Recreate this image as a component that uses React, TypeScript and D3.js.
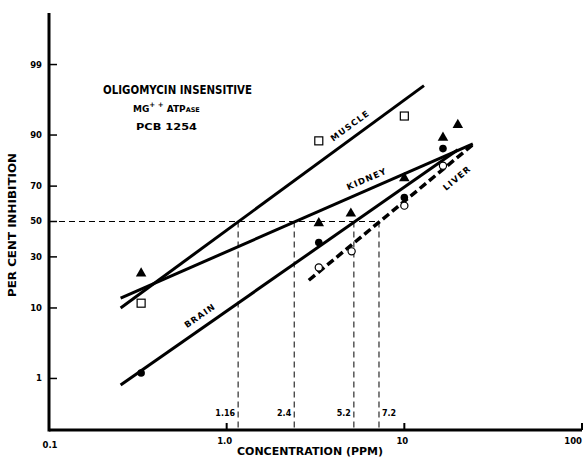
import React from 'react';
import * as d3 from 'd3';

// concentrations (ppm) and per cent inhibition
const muscleX = [0.33, 3.3, 10];
const muscleY = [11.3, 88.4, 94.1];
const kidneyX = [0.33, 3.3, 5.0, 10, 16.5, 20];
const kidneyY = [22.1, 49, 54.7, 74, 89.3, 92.4];
const brainX = [0.33, 3.3, 10, 16.5];
const brainY = [1.24, 37.8, 63.9, 86];
const liverX = [3.3, 5.05, 10, 16.5];
const liverY = [24.8, 32.9, 59.3, 79.6];

// fitted lines, end points
const muscleLine = [[0.253, 10], [12.9, 97.8]];
const kidneyLine = [[0.253, 12.8], [24.3, 87.5]];
const brainLine = [[0.253, 0.77], [20, 85.6]];
const liverLine = [[2.9, 19.2], [24.6, 87.5]];

// ED50 read-outs
const ed50 = [1.16, 2.4, 5.2, 7.2];
const ed50Labels = ['1.16', '2.4', '5.2', '7.2'];

const xTicks = [0.1, 1, 10, 100];
const xTickLabels = ['0.1', '1.0', '10', '100'];
const yTicks = [1, 10, 30, 50, 70, 90, 99];

const W = 588, H = 458;
const margin = { left: 49, right: 6, top: 13, bottom: 28 };

// inverse normal cdf (Acklam) for the probability axis
function probit(p: number): number {
  const a = [-39.69683028665376, 220.9460984245205, -275.9285104469687, 138.357751867269, -30.66479806614716, 2.506628277459239];
  const b = [-54.47609879822406, 161.5858368580409, -155.6989798598866, 66.80131188771972, -13.28068155288572];
  const c = [-0.007784894002430293, -0.3223964580411365, -2.400758277161838, -2.549732539343734, 4.374664141464968, 2.938163982698783];
  const d = [0.007784695709041462, 0.3224671290700398, 2.445134137142996, 3.754408661907416];
  const lo = 0.02425;
  let q, r;
  if (p < lo) {
    q = Math.sqrt(-2 * Math.log(p));
    return (((((c[0] * q + c[1]) * q + c[2]) * q + c[3]) * q + c[4]) * q + c[5]) / ((((d[0] * q + d[1]) * q + d[2]) * q + d[3]) * q + 1);
  }
  if (p > 1 - lo) {
    q = Math.sqrt(-2 * Math.log(1 - p));
    return -(((((c[0] * q + c[1]) * q + c[2]) * q + c[3]) * q + c[4]) * q + c[5]) / ((((d[0] * q + d[1]) * q + d[2]) * q + d[3]) * q + 1);
  }
  q = p - 0.5;
  r = q * q;
  return (((((a[0] * r + a[1]) * r + a[2]) * r + a[3]) * r + a[4]) * r + a[5]) * q / (((((b[0] * r + b[1]) * r + b[2]) * r + b[3]) * r + b[4]) * r + 1);
}

const x = d3.scaleLog().domain([0.1, 100]).range([margin.left, W - margin.right]);
const z = d3.scaleLinear().domain([probit(0.001), probit(0.999)]).range([H - margin.bottom, margin.top]);
const y = (pct: number) => z(probit(pct / 100));

const line = d3.line<number[]>().x(d => x(d[0])).y(d => y(d[1]));

const font = '"DejaVu Sans", sans-serif';

const LineLabel = ({ seg, at, text, off }: { seg: number[][]; at: number; text: string; off: number }) => {
  const [p0, p1] = seg;
  const ang = Math.atan2(y(p1[1]) - y(p0[1]), x(p1[0]) - x(p0[0]));
  const t = (Math.log(at) - Math.log(p0[0])) / (Math.log(p1[0]) - Math.log(p0[0]));
  const px = x(at);
  const py = y(p0[1]) + t * (y(p1[1]) - y(p0[1]));
  const nx = Math.sin(ang) * off, ny = -Math.cos(ang) * off;
  return (
    <text transform={`translate(${px + nx},${py + ny}) rotate(${(ang * 180) / Math.PI})`}
      textAnchor="middle" dominantBaseline="middle" fontSize={8.5} fontWeight="bold" letterSpacing={1.2} fontFamily={font}>
      {text}
    </text>
  );
};

export default function App() {
  const axisY = H - margin.bottom;
  const y50 = y(50);
  const tri = d3.symbol().type(d3.symbolTriangle).size(48)();
  return (
    <svg width={W} height={H} style={{ position: 'absolute', left: 0, top: 0, background: '#fff' }}>
      {/* guides at 50% */}
      <g stroke="#000" strokeWidth={1} strokeDasharray="6,4" fill="none">
        <line x1={margin.left} x2={x(ed50[ed50.length - 1])} y1={y50} y2={y50} />
        {ed50.map(v => <line key={v} x1={x(v)} x2={x(v)} y1={y50} y2={axisY} />)}
      </g>
      {ed50Labels.map((l, i) => {
        const last = i === ed50.length - 1;
        return (
          <text key={l} x={x(ed50[i]) + (last ? 3 : -3)} y={416} textAnchor={last ? 'start' : 'end'}
            fontSize={8} fontWeight="bold" fontFamily={font}>{l}</text>
        );
      })}

      {/* fitted lines */}
      <g fill="none" stroke="#000" strokeWidth={3}>
        <path d={line(muscleLine) || ''} />
        <path d={line(kidneyLine) || ''} />
        <path d={line(brainLine) || ''} />
        <path d={line(liverLine) || ''} strokeWidth={3.5} strokeDasharray="8,4" />
      </g>
      <LineLabel seg={muscleLine} at={5.4} text="MUSCLE" off={11} />
      <LineLabel seg={kidneyLine} at={6.5} text="KIDNEY" off={10} />
      <LineLabel seg={brainLine} at={0.77} text="BRAIN" off={11} />
      <LineLabel seg={liverLine} at={17.4} text="LIVER" off={-16} />

      {/* points */}
      {muscleX.map((v, i) => (
        <rect key={'m' + i} x={x(v) - 4} y={y(muscleY[i]) - 4} width={8} height={8} fill="#fff" stroke="#000" strokeWidth={1.2} />
      ))}
      {kidneyX.map((v, i) => (
        <path key={'k' + i} d={tri || ''} transform={`translate(${x(v)},${y(kidneyY[i])})`} fill="#000" />
      ))}
      {brainX.map((v, i) => (
        <circle key={'b' + i} cx={x(v)} cy={y(brainY[i])} r={3.8} fill="#000" />
      ))}
      {liverX.map((v, i) => (
        <circle key={'l' + i} cx={x(v)} cy={y(liverY[i])} r={3.6} fill="#fff" stroke="#000" strokeWidth={1.2} />
      ))}

      {/* axes */}
      <g stroke="#000" strokeWidth={3}>
        <line x1={margin.left} x2={margin.left} y1={margin.top} y2={axisY + 1.5} />
        <line x1={margin.left} x2={x(100)} y1={axisY} y2={axisY} />
      </g>
      {yTicks.map(t => (
        <g key={t}>
          <line x1={margin.left} x2={margin.left + 8} y1={y(t)} y2={y(t)} stroke="#000" strokeWidth={1.5} />
          <text x={margin.left - 7} y={y(t)} dy="0.35em" textAnchor="end" fontSize={8.5} fontWeight="bold" fontFamily={font}>{t}</text>
        </g>
      ))}
      {xTicks.map((t, i) => (
        <g key={t}>
          {i > 0 && <line x1={x(t)} x2={x(t)} y1={axisY} y2={axisY - 7} stroke="#000" strokeWidth={2} />}
          <text x={i === xTicks.length - 1 ? x(t) : x(t) - (i === 0 ? -1 : 2)} y={i === 0 ? 448 : 444}
            textAnchor={i === xTicks.length - 1 ? 'end' : 'middle'} fontSize={8.5} fontWeight="bold" fontFamily={font}>
            {xTickLabels[i]}
          </text>
        </g>
      ))}
      <text x={310} y={455} textAnchor="middle" fontSize={10} fontWeight="bold" fontFamily={font}
        textLength={146} lengthAdjust="spacingAndGlyphs">CONCENTRATION (PPM)</text>
      <text transform={`translate(16,225) rotate(-90)`} textAnchor="middle" fontSize={10} fontWeight="bold" fontFamily={font}
        textLength={144} lengthAdjust="spacingAndGlyphs">PER CENT INHIBITION</text>

      {/* title block */}
      <text x={103} y={94} fontSize={12} fontWeight="bold" fontFamily={font} textLength={149} lengthAdjust="spacingAndGlyphs">
        OLIGOMYCIN INSENSITIVE
      </text>
      <text x={133} y={112} fontSize={9} fontWeight="bold" fontFamily={font}>
        MG<tspan dy={-5} fontSize={7}>+ +</tspan><tspan dy={5}> ATP</tspan><tspan fontSize={6.5}>ASE</tspan>
      </text>
      <text x={136} y={130} fontSize={8} fontWeight="bold" fontFamily={font} textLength={61} lengthAdjust="spacingAndGlyphs">
        PCB 1254
      </text>
    </svg>
  );
}
